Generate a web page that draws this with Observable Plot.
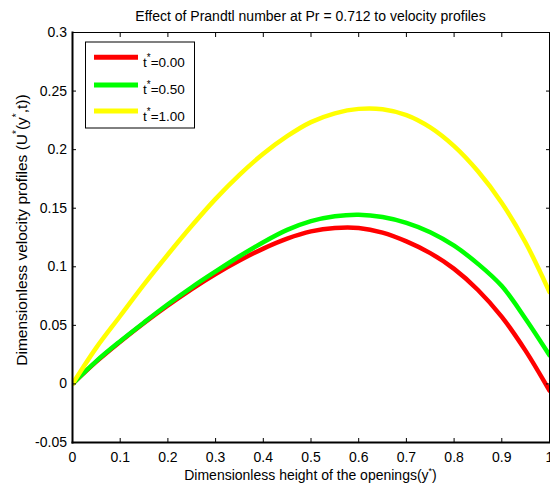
<!DOCTYPE html>
<html><head><meta charset="utf-8">
<script src="https://cdn.jsdelivr.net/npm/d3@7"></script>
<script src="https://cdn.jsdelivr.net/npm/@observablehq/plot@0.6"></script>
<style>body{margin:0;background:#fff} #chart{width:550px;height:493px;position:relative}</style>
</head><body><div id="chart"></div>
<script>
// Dimensionless height of the openings (y*)
const yStar = [0, 0.05, 0.1, 0.15, 0.2, 0.25, 0.3, 0.35, 0.4, 0.45, 0.5, 0.55, 0.6, 0.65, 0.7, 0.75, 0.8, 0.85, 0.9, 0.95, 1.0];
// Velocity profiles U*(y*, t) for t* = 0.00, 0.50, 1.00
const u000 = [0, 0.019, 0.036, 0.052, 0.067, 0.081, 0.0938, 0.1053, 0.1155, 0.124, 0.1302, 0.1332, 0.1332, 0.1292, 0.1217, 0.1117, 0.0982, 0.0802, 0.0572, 0.0282, -0.0058];
const u050 = [0, 0.0195, 0.0365, 0.0525, 0.068, 0.0825, 0.096, 0.109, 0.121, 0.1315, 0.139, 0.1432, 0.1445, 0.1425, 0.1375, 0.1295, 0.118, 0.1025, 0.0835, 0.0555, 0.0245];
const u100 = [0, 0.031, 0.058, 0.085, 0.1105, 0.135, 0.158, 0.1785, 0.1965, 0.2115, 0.2235, 0.231, 0.2348, 0.2345, 0.2295, 0.219, 0.203, 0.1815, 0.1545, 0.1205, 0.0785];
const seriesT = ["0.00", "0.50", "1.00"];
const seriesColors = ["#ff0000", "#00ff00", "#ffff00"];
const xTicks = [0, 0.1, 0.2, 0.3, 0.4, 0.5, 0.6, 0.7, 0.8, 0.9, 1];
const yTicks = [-0.05, 0, 0.05, 0.1, 0.15, 0.2, 0.25, 0.3];
const titleText = "Effect of Prandtl number at Pr = 0.712 to velocity profiles";

const seriesValues = [u000, u050, u100];
const rows = [];
seriesValues.forEach((arr, i) => arr.forEach((v, j) => rows.push({y: yStar[j], u: v, t: seriesT[i]})));

const ML = 72, MT = 32, MR = 1, MB = 51, W = 550, H = 493;
const font = "'Liberation Sans', Arial, Helvetica, sans-serif";
const FS = 14;

const plot = Plot.plot({
  width: W, height: H,
  marginTop: MT, marginBottom: MB, marginLeft: ML, marginRight: MR,
  style: {fontFamily: font, fontSize: FS + "px", color: "black", background: "white", overflow: "visible"},
  x: {domain: [0, 1]},
  y: {domain: [-0.05, 0.3]},
  color: {domain: seriesT, range: seriesColors},
  marks: [
    Plot.line(rows, {x: "y", y: "u", z: "t", stroke: "t", strokeWidth: 4.5, curve: "catmull-rom", clip: true}),
    Plot.frame({stroke: "black", strokeWidth: 1}),
    Plot.frame({anchor: "left", stroke: "black", strokeWidth: 2}),
    Plot.frame({anchor: "bottom", stroke: "black", strokeWidth: 2}),
    Plot.axisX(xTicks, {anchor: "bottom", tickSize: -4, tickPadding: 13.5, tickFormat: d => String(d), label: null, fontSize: FS}),
    Plot.axisX(xTicks, {anchor: "top", tickSize: -4, tickFormat: () => "", label: null}),
    Plot.axisY(yTicks, {anchor: "left", tickSize: -4, tickPadding: 9.5, tickFormat: d => String(d), label: null, fontSize: FS}),
    Plot.axisY(yTicks, {anchor: "right", tickSize: -4, tickFormat: () => "", label: null})
  ]
});
document.getElementById("chart").appendChild(plot);

const svg = d3.select(plot);
const cx = ML + (W - ML - MR) / 2;

// Title
svg.append("text").attr("x", cx).attr("y", 20.5).attr("text-anchor", "middle")
  .attr("font-family", font).attr("font-size", FS).attr("fill", "black").text(titleText);

function sup(t, size, shift) {
  t.append("tspan").attr("font-size", size).attr("dy", -shift).text("*");
}
// X label
const xl = svg.append("text").attr("x", cx).attr("y", 480).attr("text-anchor", "middle")
  .attr("font-family", font).attr("font-size", FS).attr("fill", "black");
xl.append("tspan").text("Dimensionless height of the openings(y");
sup(xl, 9, 6);
xl.append("tspan").attr("dy", 6).text(")");

// Y label
const yl = svg.append("text").attr("transform", "translate(27,230) rotate(-90)").attr("text-anchor", "middle")
  .attr("font-family", font).attr("font-size", 15.5).attr("fill", "black");
yl.append("tspan").text("Dimensionless velocity profiles (U");
sup(yl, 10, 7);
yl.append("tspan").attr("dy", 7).text("(y");
sup(yl, 10, 7);
yl.append("tspan").attr("dy", 7).text(",t))");

// Legend
const lg = svg.append("g").attr("text-anchor", "start");
lg.append("rect").attr("x", 85.5).attr("y", 42).attr("width", 109).attr("height", 86)
  .attr("fill", "white").attr("stroke", "black").attr("stroke-width", 1);
const lineYs = [57.3, 85, 111];
const baseYs = [66.7, 94.3, 120.7];
seriesT.forEach((t, i) => {
  lg.append("line").attr("x1", 94).attr("x2", 138).attr("y1", lineYs[i]).attr("y2", lineYs[i])
    .attr("stroke", seriesColors[i]).attr("stroke-width", 5);
  const tx = lg.append("text").attr("x", 143).attr("y", baseYs[i]).attr("text-anchor", "start")
    .attr("font-family", font).attr("font-size", 13.5).attr("fill", "black");
  tx.append("tspan").text("t");
  tx.append("tspan").attr("font-size", 10).attr("dy", -6).text("*");
  tx.append("tspan").attr("dy", 6).text("=" + t);
});
</script></body></html>
